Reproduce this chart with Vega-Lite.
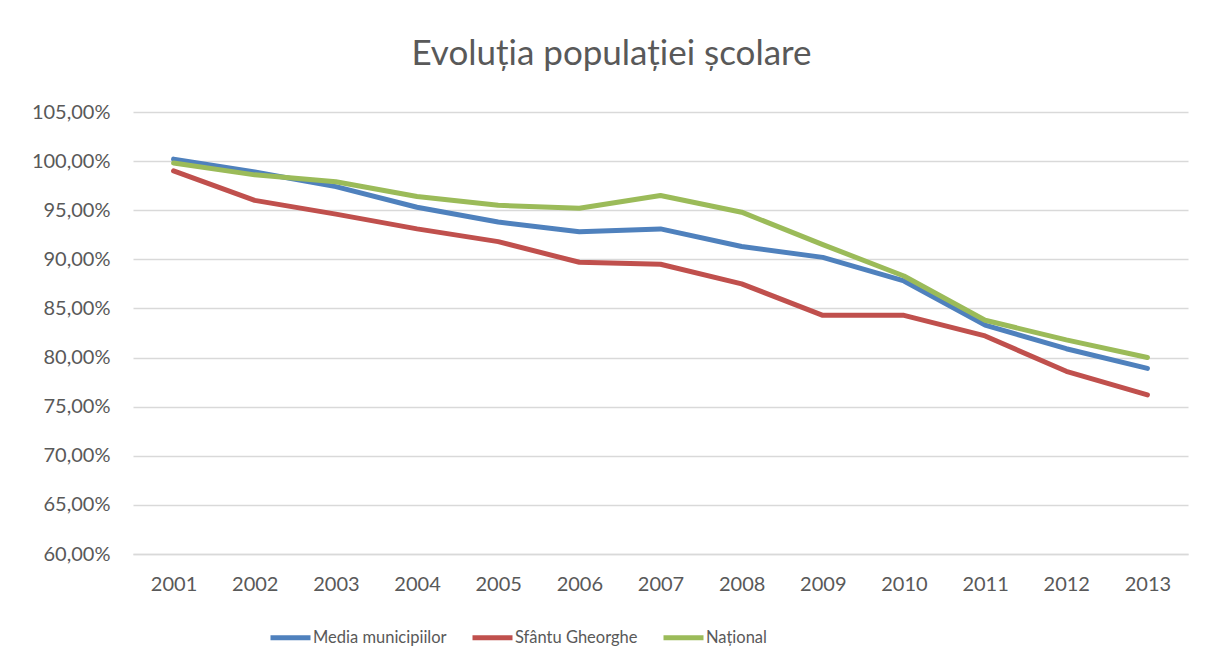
{
  "$schema": "https://vega.github.io/schema/vega-lite/v6.json",
  "width": 1055,
  "height": 442,
  "autosize": {"type": "none"},
  "padding": {"left": 133, "top": 112, "right": 17, "bottom": 116},
  "background": "white",
  "config": {
    "font": "Lato",
    "view": {"stroke": null}
  },
  "title": {
    "text": "Evoluția populației școlare",
    "fontSize": 35,
    "fontWeight": "normal",
    "color": "#595959",
    "font": "Lato",
    "anchor": "middle",
    "dx": -49,
    "offset": 30
  },
  "data": {
    "values": [
      {"year": "2001", "series": "Media municipiilor", "value": 1.002},
      {"year": "2002", "series": "Media municipiilor", "value": 0.989},
      {"year": "2003", "series": "Media municipiilor", "value": 0.974},
      {"year": "2004", "series": "Media municipiilor", "value": 0.953},
      {"year": "2005", "series": "Media municipiilor", "value": 0.938},
      {"year": "2006", "series": "Media municipiilor", "value": 0.928},
      {"year": "2007", "series": "Media municipiilor", "value": 0.931},
      {"year": "2008", "series": "Media municipiilor", "value": 0.913},
      {"year": "2009", "series": "Media municipiilor", "value": 0.902},
      {"year": "2010", "series": "Media municipiilor", "value": 0.878},
      {"year": "2011", "series": "Media municipiilor", "value": 0.833},
      {"year": "2012", "series": "Media municipiilor", "value": 0.809},
      {"year": "2013", "series": "Media municipiilor", "value": 0.789},
      {"year": "2001", "series": "Sfântu Gheorghe", "value": 0.990},
      {"year": "2002", "series": "Sfântu Gheorghe", "value": 0.960},
      {"year": "2003", "series": "Sfântu Gheorghe", "value": 0.946},
      {"year": "2004", "series": "Sfântu Gheorghe", "value": 0.931},
      {"year": "2005", "series": "Sfântu Gheorghe", "value": 0.918},
      {"year": "2006", "series": "Sfântu Gheorghe", "value": 0.897},
      {"year": "2007", "series": "Sfântu Gheorghe", "value": 0.895},
      {"year": "2008", "series": "Sfântu Gheorghe", "value": 0.875},
      {"year": "2009", "series": "Sfântu Gheorghe", "value": 0.843},
      {"year": "2010", "series": "Sfântu Gheorghe", "value": 0.843},
      {"year": "2011", "series": "Sfântu Gheorghe", "value": 0.822},
      {"year": "2012", "series": "Sfântu Gheorghe", "value": 0.786},
      {"year": "2013", "series": "Sfântu Gheorghe", "value": 0.762},
      {"year": "2001", "series": "Național", "value": 0.998},
      {"year": "2002", "series": "Național", "value": 0.986},
      {"year": "2003", "series": "Național", "value": 0.979},
      {"year": "2004", "series": "Național", "value": 0.964},
      {"year": "2005", "series": "Național", "value": 0.955},
      {"year": "2006", "series": "Național", "value": 0.952},
      {"year": "2007", "series": "Național", "value": 0.965},
      {"year": "2008", "series": "Național", "value": 0.948},
      {"year": "2009", "series": "Național", "value": 0.915},
      {"year": "2010", "series": "Național", "value": 0.883},
      {"year": "2011", "series": "Național", "value": 0.838},
      {"year": "2012", "series": "Național", "value": 0.818},
      {"year": "2013", "series": "Național", "value": 0.800}
    ]
  },
  "mark": {"type": "line", "strokeWidth": 5, "strokeCap": "round", "strokeJoin": "round"},
  "encoding": {
    "x": {
      "field": "year",
      "type": "ordinal",
      "scale": {"type": "point", "padding": 0.5},
      "axis": {
        "title": null,
        "labelAngle": 0,
        "labelFontSize": 20,
        "labelColor": "#595959",
        "labelFont": "Lato",
        "labelPadding": 20,
        "ticks": false,
        "domainColor": "#D9D9D9",
        "domainWidth": 1.5,
        "grid": false
      }
    },
    "y": {
      "field": "value",
      "type": "quantitative",
      "scale": {"domain": [0.6, 1.05], "nice": false, "zero": false},
      "axis": {
        "title": null,
        "values": [0.6, 0.65, 0.7, 0.75, 0.8, 0.85, 0.9, 0.95, 1.0, 1.05],
        "labelExpr": "replace(format(datum.value, '.2%'), '.', ',')",
        "labelFontSize": 20,
        "labelColor": "#595959",
        "labelFont": "Lato",
        "labelPadding": 23,
        "ticks": false,
        "domain": false,
        "gridColor": "#D9D9D9",
        "gridWidth": 1.5
      }
    },
    "color": {
      "field": "series",
      "type": "nominal",
      "scale": {
        "domain": ["Media municipiilor", "Sfântu Gheorghe", "Național"],
        "range": ["#4F81BD", "#C0504D", "#9BBB59"]
      },
      "legend": {
        "title": null,
        "orient": "none",
        "legendX": 135,
        "legendY": 503,
        "direction": "horizontal",
        "symbolType": "stroke",
        "symbolStrokeWidth": 5,
        "symbolSize": 1600,
        "labelFontSize": 16.5,
        "labelColor": "#595959",
        "labelFont": "Lato",
        "labelOffset": 0,
        "columnPadding": 15,
        "symbolOffset": 0
      }
    }
  }
}
